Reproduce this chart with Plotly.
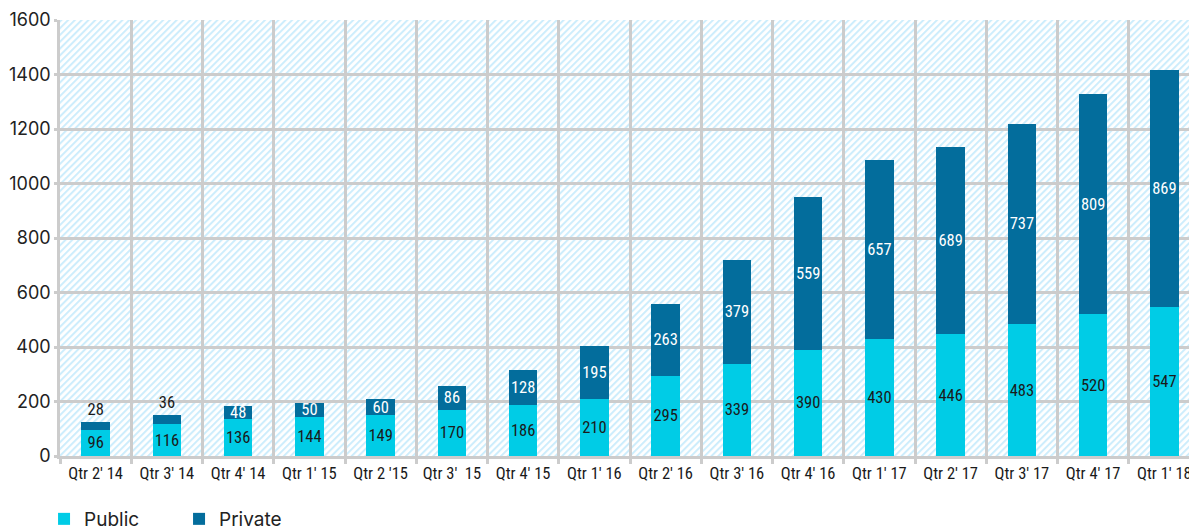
import base64
import plotly.graph_objects as go

quarters = ["Qtr 2' 14", "Qtr 3' 14", "Qtr 4' 14", "Qtr 1' 15", "Qtr 2 '15", "Qtr 3'  15",
            "Qtr 4' 15", "Qtr 1' 16", "Qtr 2' 16", "Qtr 3' 16", "Qtr 4' 16", "Qtr 1' 17",
            "Qtr 2' 17", "Qtr 3' 17", "Qtr 4' 17", "Qtr 1' 18"]
public = [96, 116, 136, 144, 149, 170, 186, 210, 295, 339, 390, 430, 446, 483, 520, 547]
private = [28, 36, 48, 50, 60, 86, 128, 195, 263, 379, 559, 657, 689, 737, 809, 869]
y_ticks = [0, 200, 400, 600, 800, 1000, 1200, 1400, 1600]

W, H = 1197, 531
ML, MR, MT, MB = 52, 5, 12, 83
PW, PH = W - ML - MR, H - MT - MB

COND = "Liberation Sans Narrow, Arial Narrow, Roboto Condensed, DejaVu Sans Condensed, Roboto"
REG = "Inter, Roboto, Liberation Sans, sans-serif"

svg = f'''<svg xmlns="http://www.w3.org/2000/svg" width="{PW}" height="{PH}" viewBox="0 0 {PW} {PH}">
<defs><pattern id="p" width="4.8" height="4.8" patternUnits="userSpaceOnUse" patternTransform="rotate(-45)">
<rect width="4.8" height="4.8" fill="#ffffff"/><rect width="4.8" height="2.0" fill="#cdedfc"/></pattern></defs>
<rect width="{PW}" height="{PH}" fill="url(#p)"/></svg>'''
src = "data:image/svg+xml;base64," + base64.b64encode(svg.encode()).decode()

fig = go.Figure()
fig.add_trace(go.Bar(
    x=quarters, y=public, name="Public", marker=dict(color="#00cce6", line=dict(width=0)),
    text=[str(v) for v in public], textposition="inside", insidetextanchor="middle",
    constraintext="none", textangle=0,
    insidetextfont=dict(family=COND, size=16.5, color="#1a1a1a"),
))
private_pos = ["outside" if v < 40 else "inside" for v in private]
fig.add_trace(go.Bar(
    x=quarters, y=private, name="Private", marker=dict(color="#036d9c", line=dict(width=0)),
    text=[str(v) for v in private], textposition=private_pos, insidetextanchor="middle",
    constraintext="none", textangle=0, cliponaxis=False,
    insidetextfont=dict(family=COND, size=16.5, color="#ffffff"),
    outsidetextfont=dict(family=COND, size=16.5, color="#1a1a1a"),
))

fig.update_layout(
    width=W, height=H, barmode="stack", bargap=0.6,
    margin=dict(l=ML, r=MR, t=MT, b=MB, pad=0, autoexpand=False),
    paper_bgcolor="white", plot_bgcolor="rgba(0,0,0,0)",
    showlegend=True,
    legend=dict(orientation="h", x=-0.014, xanchor="left", y=-0.1445, yanchor="middle",
                font=dict(family=REG, size=19, color="#222"), itemwidth=30,
                entrywidth=90, entrywidthmode="pixels",
                traceorder="normal"),
    images=[dict(source=src, xref="paper", yref="paper", x=0, y=1, sizex=1, sizey=1,
                 xanchor="left", yanchor="top", sizing="stretch", layer="below")],
)
fig.update_xaxes(
    type="category", tickson="boundaries", showgrid=True, gridcolor="#cccccc", gridwidth=2.5,
    ticks="outside", ticklen=5, tickcolor="#cccccc", tickwidth=2.5, automargin=False,
    tickangle=0, showline=True, linecolor="#cccccc", linewidth=2.5,
    tickfont=dict(family=COND, size=16.5, color="#1a1a1a"),
)
fig.update_yaxes(
    range=[0, 1600], tickvals=y_ticks, showgrid=True, gridcolor="#cccccc", gridwidth=2.5,
    zeroline=False, showline=True, linecolor="#cccccc", linewidth=2.5, automargin=False,
    ticks="outside", ticklen=3, tickcolor="#cccccc", tickwidth=2.5,
    tickfont=dict(family=REG, size=18, color="#222"),
)
fig.write_html("out.html")
